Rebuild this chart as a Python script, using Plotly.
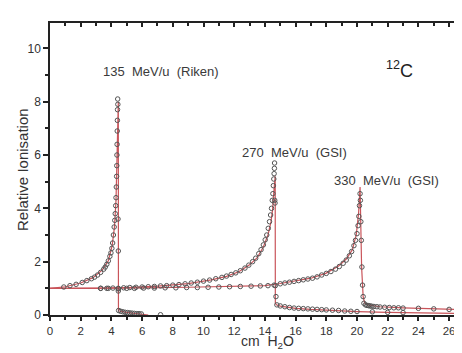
import plotly.graph_objects as go

# ---- data ----
# 135 MeV/u (Riken): measured points
m135_x = [0.9, 1.3, 1.7, 2.1, 2.4, 2.7, 2.9, 3.1, 3.3, 3.5, 3.6, 3.7, 3.8, 3.9, 3.97, 4.03, 4.08,
          4.13, 4.18, 4.22, 4.25, 4.28, 4.30, 4.32, 4.34, 4.35, 4.36, 4.37, 4.38, 4.39, 4.40, 4.41,
          4.42, 4.43, 4.45, 4.45, 4.47, 4.6, 4.75, 4.9, 5.05, 5.2, 5.35, 5.5, 5.65, 5.8, 5.95, 7.2]
m135_y = [1.05, 1.10, 1.15, 1.22, 1.29, 1.36, 1.42, 1.50, 1.60, 1.72, 1.80, 1.90, 2.03, 2.20, 2.33,
          2.50, 2.70, 3.00, 3.30, 3.55, 3.80, 4.10, 4.40, 4.80, 5.20, 5.60, 6.00, 6.40, 6.90, 7.30,
          7.70, 8.10, 7.90, 3.60, 2.40, 0.90, 0.17, 0.14, 0.12, 0.10, 0.09, 0.08, 0.07, 0.06, 0.05,
          0.05, 0.04, 0.01]
# 135 MeV/u fitted curve
f135_x = [0, 1, 2, 2.8, 3.4, 3.8, 4.05, 4.2, 4.3, 4.36, 4.40, 4.44, 4.45, 4.46, 4.6, 5.0, 5.5, 6.0, 6.4]
f135_y = [1.0, 1.06, 1.2, 1.4, 1.68, 2.03, 2.6, 3.3, 4.3, 5.8, 7.4, 8.0, 8.0, 0.16, 0.14, 0.10, 0.06, 0.03, 0.0]

# 270 MeV/u (GSI): measured points
m270_x = [3.3, 3.7, 4.1, 4.45, 4.8, 5.2, 5.6, 6.0, 6.4, 6.8, 7.2, 7.6, 8.0, 8.4, 8.8, 9.2, 9.6, 10.0,
          10.4, 10.8, 11.2, 11.5, 11.8, 12.1, 12.4, 12.7, 12.95, 13.2, 13.4, 13.6, 13.75, 13.9, 14.02,
          14.12, 14.22, 14.3, 14.37, 14.43, 14.48, 14.52, 14.55, 14.58, 14.6, 14.62, 14.63, 14.64,
          14.66, 14.68, 14.72, 14.78, 15.0, 15.3, 15.6, 15.9, 16.2, 16.5, 16.8, 17.1, 17.4, 17.7,
          18.0, 18.4, 18.8, 19.2, 19.6, 20.0, 21.0, 22.0, 23.0]
m270_y = [1.0, 1.0, 1.01, 1.0, 1.02, 1.03, 1.04, 1.05, 1.06, 1.07, 1.09, 1.10, 1.12, 1.14, 1.17, 1.20,
          1.23, 1.27, 1.31, 1.36, 1.41, 1.46, 1.52, 1.58, 1.66, 1.76, 1.87, 2.00, 2.13, 2.30, 2.45,
          2.63, 2.82, 3.00, 3.25, 3.50, 3.75, 4.00, 4.30, 4.55, 4.85, 5.10, 5.30, 5.50, 5.70, 4.30,
          4.20, 1.10, 0.69, 0.38, 0.34, 0.31, 0.28, 0.26, 0.25, 0.24, 0.23, 0.22, 0.21, 0.20, 0.19,
          0.18, 0.17, 0.15, 0.14, 0.13, 0.12, 0.10, 0.09]
# 270 MeV/u fitted curve
f270_x = [0, 3, 5, 7, 9, 10.5, 11.5, 12.3, 13.0, 13.5, 13.9, 14.2, 14.4, 14.5, 14.58, 14.63, 14.67,
          14.68, 14.75, 15.0, 16.0, 17.0, 18.0, 20.0, 22.0, 24.0, 26.84]
f270_y = [1.0, 1.0, 1.03, 1.08, 1.18, 1.32, 1.45, 1.62, 1.88, 2.15, 2.55, 3.0, 3.5, 3.95, 4.6, 5.2,
          5.2, 0.45, 0.38, 0.33, 0.25, 0.21, 0.18, 0.13, 0.10, 0.08, 0.06]

# 330 MeV/u (GSI): measured points
m330_x = [3.3, 3.8, 4.45, 5.0, 5.5, 6.1, 6.8, 7.5, 8.2, 8.9, 9.6, 10.3, 11.0, 11.7, 12.4, 13.1, 13.7,
          14.2, 14.6, 15.0, 15.3, 15.6, 15.9, 16.2, 16.5, 16.8, 17.1, 17.4, 17.7, 18.0, 18.3, 18.6,
          18.85, 19.1, 19.3, 19.5, 19.65, 19.8, 19.9, 20.0, 20.07, 20.12, 20.16, 20.2, 20.22, 20.25,
          20.28, 20.32, 20.36, 20.4, 20.45, 20.55, 20.65, 20.75, 20.85, 20.95, 21.1, 21.3, 21.5,
          21.8, 22.1, 22.4, 22.7, 23.0, 24.0, 25.0, 26.0]
m330_y = [1.0, 1.0, 0.98, 1.0, 1.0, 1.01, 1.01, 1.02, 1.02, 1.03, 1.03, 1.04, 1.05, 1.06, 1.07, 1.08,
          1.09, 1.10, 1.12, 1.17, 1.20, 1.23, 1.26, 1.29, 1.32, 1.35, 1.38, 1.43, 1.50, 1.56, 1.63,
          1.72, 1.82, 1.94, 2.06, 2.22, 2.38, 2.60, 2.80, 3.05, 3.35, 3.70, 4.10, 4.55, 4.30, 3.50,
          2.80, 1.80, 1.12, 0.69, 0.44, 0.38, 0.36, 0.35, 0.34, 0.33, 0.32, 0.31, 0.30, 0.29, 0.28,
          0.27, 0.27, 0.26, 0.25, 0.23, 0.21]
# 330 MeV/u fitted curve
f330_x = [0, 3, 6, 9, 12, 14, 15, 16, 17, 18, 18.8, 19.3, 19.7, 19.95, 20.1, 20.2, 20.25, 20.3, 20.4,
          20.5, 20.7, 21.5, 23.0, 24.0, 26.84]
f330_y = [1.0, 1.0, 1.02, 1.04, 1.07, 1.1, 1.18, 1.28, 1.38, 1.57, 1.84, 2.1, 2.45, 3.0, 3.8, 4.8,
          3.5, 1.8, 0.69, 0.45, 0.38, 0.31, 0.27, 0.25, 0.20]

labels = ["135  MeV/u  (Riken)", "270  MeV/u  (GSI)", "330  MeV/u  (GSI)"]
label_x = [7.2, 15.9, 21.95]
label_y = [9.15, 6.1, 5.05]

x_ticks = list(range(0, 27, 2))
y_ticks = list(range(0, 11, 2))

RED = "#c9545a"
MK = "#555555"
FONT = "Liberation Sans, Arial, sans-serif"

fig = go.Figure()
for fx, fy in [(f135_x, f135_y), (f270_x, f270_y), (f330_x, f330_y)]:
    fig.add_trace(go.Scatter(x=fx, y=fy, mode="lines",
                             line=dict(color=RED, width=1.2), hoverinfo="skip", showlegend=False))
for mx, my in [(m135_x, m135_y), (m270_x, m270_y), (m330_x, m330_y)]:
    fig.add_trace(go.Scatter(x=mx, y=my, mode="markers",
                             marker=dict(symbol="circle-open", size=4.5, color=MK,
                                         line=dict(width=1, color=MK)),
                             showlegend=False))
# helper trace to show the top axis
fig.add_trace(go.Scatter(x=[None], y=[None], xaxis="x2", showlegend=False))

for t, x, y in zip(labels, label_x, label_y):
    fig.add_annotation(x=x, y=y, text=t, showarrow=False,
                       font=dict(family=FONT, size=13, color="#3a3a3a"))
fig.add_annotation(x=22.8, y=9.2, text="<sup>12</sup>C", showarrow=False,
                   font=dict(family=FONT, size=18, color="#222"))
# axis titles
fig.add_annotation(xref="paper", yref="paper", x=0.527, y=-0.127, yanchor="bottom",
                   text="cm  H<sub>2</sub>O", showarrow=False, borderpad=0,
                   font=dict(family=FONT, size=14, color="#333"))
fig.add_annotation(xref="paper", yref="paper", x=-0.068, y=0.5, xanchor="center",
                   yanchor="middle", textangle=-90, text="Relative Ionisation", showarrow=False,
                   font=dict(family=FONT, size=15, color="#333"))

XR = [0, 26.84]
# the page body adds an 8px offset, so the figure is sized to fit the window
fig.update_layout(
    width=454, height=345,
    margin=dict(l=42, r=0, t=15, b=38, autoexpand=False),
    paper_bgcolor="white", plot_bgcolor="white",
    font=dict(family=FONT, color="#333"),
    xaxis=dict(range=XR, tickvals=x_ticks, ticks="outside", ticklen=4, tickwidth=1.5,
               tickcolor="#222", showline=True, linecolor="#222", linewidth=1.5,
               showgrid=False, zeroline=False, tickfont=dict(size=11.5, color="#333"),
               minor=dict(dtick=1, tick0=0, ticks="outside", ticklen=3, tickcolor="#222")),
    xaxis2=dict(range=XR, overlaying="x", side="top", showticklabels=False, ticks="inside",
                tickvals=x_ticks, ticklen=4, tickwidth=1.5, tickcolor="#222", showline=True,
                linecolor="#222", linewidth=1.5, showgrid=False, zeroline=False,
                minor=dict(dtick=1, tick0=0, ticks="inside", ticklen=3, tickcolor="#222")),
    yaxis=dict(range=[0, 10.95], tickvals=y_ticks, ticks="outside", ticklen=5, tickwidth=1.5,
               tickcolor="#222", showline=True, linecolor="#222", linewidth=1.5,
               showgrid=False, zeroline=False, tickfont=dict(size=12, color="#333"),
               minor=dict(dtick=1, tick0=0, ticks="outside", ticklen=3, tickcolor="#222")),
)

fig.write_html("out.html")
